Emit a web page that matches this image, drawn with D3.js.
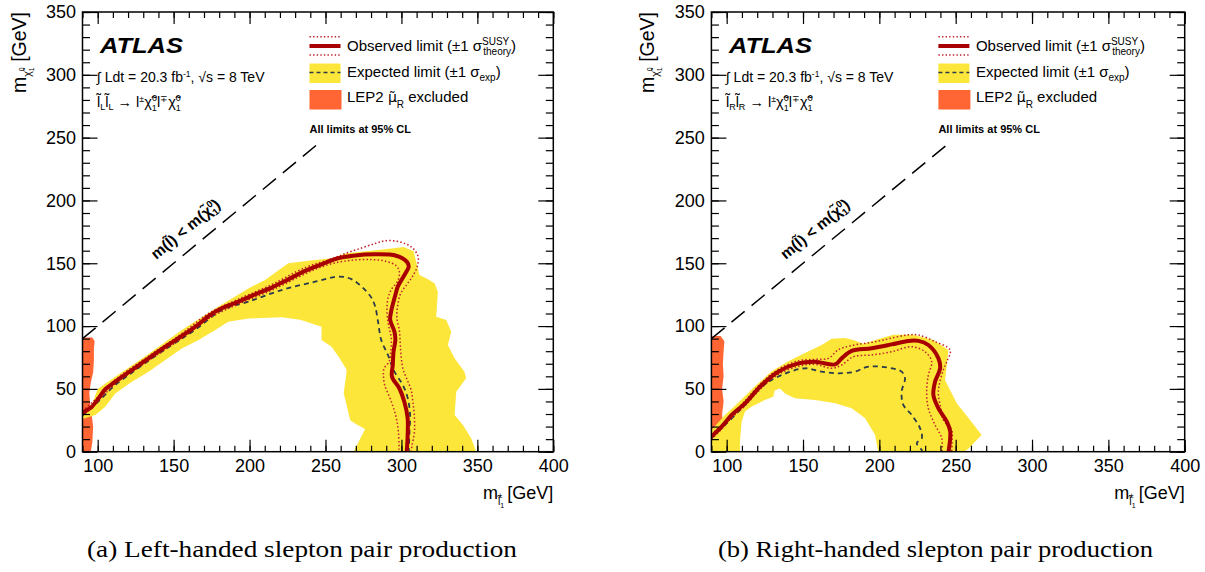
<!DOCTYPE html>
<html>
<head>
<meta charset="utf-8">
<script src="https://cdn.jsdelivr.net/npm/d3@7"></script>
<style>
  body { margin: 0; background: #fff; }
  svg { display: block; }
</style>
</head>
<body>
<svg id="chart" width="1205" height="572"></svg>
<script>
// axis ticks (GeV)
const xTicks = [100, 150, 200, 250, 300, 350, 400];
const yTicks = [0, 50, 100, 150, 200, 250, 300, 350];

// (a) left-handed: contours as [m_slepton, m_chi] pairs
const leftObserved = [[90,30.8],[93.9,33.8],[96.2,35.8],[100.6,42.5],[105,49.7],[111.6,55.7],[122.5,65],[133.5,74.3],[144.5,83.6],[155.4,92.1],[166.4,101.4],[173,108],[181.7,114.2],[192.7,119.4],[203.6,125.3],[214.6,130.6],[225.5,137.2],[236.5,143.9],[247.4,149.2],[257.1,153.6],[268.1,156],[283.4,157.1],[296.5,156],[303.5,151.3],[304.8,147.3],[302,140.7],[297.6,131.4],[296,124.7],[293.2,111.5],[292.6,104.8],[295.4,95.5],[296,88.9],[294.8,79.6],[294.3,69],[293.8,59.7],[298.6,50.5],[301.9,39.8],[304.1,26.6],[304.1,13.3],[303.5,0]];
const leftObsUp = [[90,32.5],[100.6,44],[111.6,57.3],[133.5,76],[155.4,94],[173,110],[192.7,121.5],[214.6,133],[236.5,146.5],[254,153.5],[263.6,158],[274.6,162.5],[283.4,166],[290,168],[297,167.5],[302.7,165.5],[307.5,162],[311,155.3],[310.3,147],[307.5,140],[303.5,133],[299.5,126],[297.6,117],[297,107],[298.7,96],[299.2,86],[299.8,76],[301,66],[303.5,58],[306.4,49],[307.5,40],[308.4,30],[308.6,16],[307,5],[306.4,0]];
const leftObsDown = [[90,29],[100.6,41],[111.6,54],[133.5,72.5],[155.4,90.3],[173,106],[192.7,117.5],[214.6,128.5],[236.5,141.5],[246,146.5],[257,150.5],[268,152.5],[280,153],[290,151.5],[296.6,148],[298.7,143],[297.6,136],[293.3,129],[291.1,122],[290.5,111.5],[291.5,100.8],[293.3,91],[293,80],[292,72],[288.5,66],[288.2,60],[289,53],[293.3,40],[296.6,27],[298.2,13],[298.4,0]];
const leftExpected = [[90,29],[100,39.5],[111,52.5],[122,62.5],[133,72],[144.5,81.5],[155.4,90],[166.4,99],[181.7,112.8],[199.2,119.4],[221.2,128.7],[243.1,135.3],[259.3,139.4],[268.1,136.7],[279,124.7],[282.4,116.8],[284.6,103.5],[286.7,88.9],[291.1,77],[295.4,63.7],[300.9,53.1],[304.2,42.4],[305.7,29.2],[305.3,16],[304.8,0]];
const leftBand = [[90,32],[96,37],[100,50],[111.6,59.7],[133.5,77.7],[155.4,96.8],[177.4,114],[188.3,122],[199.2,130],[210.2,136.7],[225.5,150],[238.6,152],[254,154],[264,158],[280,160],[294.8,162],[301.4,163],[308,159.6],[311.9,140.7],[316.3,138],[321.8,134],[324,127.4],[322.9,107.5],[329.5,104.8],[332.8,95.5],[330.6,84.9],[335,74.3],[341.5,63.7],[342.6,58.4],[336.1,47.8],[335,29.2],[340.5,21.2],[346,10.6],[349.2,0],[268.5,0],[276.1,18],[270,22],[266.3,25],[262,46.5],[264,65],[259,75],[254,83.5],[247.4,89],[247.4,99.5],[233.3,105],[221.2,107],[199.2,106],[186,103.5],[177.4,96.8],[166.4,88.9],[155.4,82.2],[144.5,73],[133.5,63.7],[122.5,55.7],[111.6,46.4],[105,35.8],[98.5,29.2],[90,26]];
const leftLep = [[90,0],[95.5,0],[96.5,8],[97,20],[96,30],[95,38],[94.5,47],[95.5,55],[97,63],[97.5,72],[97.5,82],[98,88],[96.5,91],[90,91]];

// (b) right-handed
const rightObserved = [[90,12],[96.7,20],[103.3,29.2],[112,38.5],[123,53.1],[133.8,63.7],[146.9,70.3],[157.9,71.6],[171,69.5],[175.3,74.3],[181.9,80.2],[195,82.3],[208.1,85.4],[219,88.2],[225.6,88.2],[232.1,84.9],[238.7,74.3],[239.8,66.4],[236.5,55.7],[235.4,45.1],[238.7,34.5],[244.2,23.9],[246.4,16],[245.3,0]];
const rightObsUp = [[90,14],[98.9,23.5],[112,40.5],[123,55],[133.8,65.5],[146.9,72.3],[157.9,73.5],[166.6,74.3],[173.2,81.2],[181.9,84.5],[199,87.9],[210,91],[219,93],[225.6,92.9],[236.5,87.6],[246.4,80.9],[244.1,71.6],[241.9,65],[239.5,55],[238.6,46.5],[240,36],[241.9,25.3],[247.4,17.3],[247.6,8],[247.4,0]];
const rightObsDown = [[90,10],[96.7,18],[103.3,27],[112,36.5],[123,51],[133.8,61.5],[146.9,68],[157.9,69.5],[168.8,66.4],[175.3,69],[183,75.6],[195,77],[208.1,79.6],[221.2,83.6],[229.9,79.6],[234.3,71.6],[232.1,61],[231,47.8],[232.1,34.5],[236.5,21.3],[240.9,10.7],[240.9,0]];
const rightExpected = [[90,10.7],[98.9,21.3],[112,37.2],[123,51.8],[136,61],[151.3,66.4],[162.2,63.7],[173.2,62.4],[184,63.7],[192.8,67.7],[208.1,66.4],[214.6,63.7],[216.8,58.4],[214.6,47.8],[215.7,37.2],[221.2,29.2],[226.7,18.6],[227.8,10.7],[224.5,6.7],[227.8,1.3],[227.8,0]];
const rightBand = [[90,0],[90,17],[98.9,29.2],[107.6,39],[118.5,52],[129.5,64],[140.4,72],[151.3,78.5],[162.2,85],[168.8,90],[177.5,90.5],[183,89],[189.5,86],[200,90],[209.2,93],[222.3,93],[235.4,89],[245.2,81],[244.1,67.7],[243,57],[250.7,38.5],[259.4,25.2],[267,13.3],[263.8,9.3],[258,2],[255,0],[199.3,0],[197.2,13.3],[190.7,26.6],[181.9,34.5],[171,38.5],[157.9,41.1],[144.8,42.5],[138.2,46.4],[134.9,50.4],[131.6,49],[130.5,43.8],[125,41.1],[116.4,35.9],[112,31.9],[109.8,23.9],[108.7,8],[108.7,0]];
const rightLep = [[90,0],[96,0],[97,10],[97.5,20],[97,30],[98,40],[97,50],[98,60],[97.5,70],[98,80],[98.5,88],[96,92],[90,92]];

const kinLimit = [[90, 90], [245, 245]];

const SANS = "'Liberation Sans', Arial, Helvetica, sans-serif";
const SERIF = "'Liberation Serif', 'Times New Roman', serif";
const OBS = "#a80000";
const DOT = "#c0202a";
const EXP = "#2b3a4a";
const BAND = "#fde63a";
const LEP = "#ff6633";

const svg = d3.select("#chart");

// text with sub/superscripts: parts = [{t, f, s (shift down), dx, ff}]
function rich(text, parts) {
  let shift = 0;
  parts.forEach((p) => {
    const s = p.s || 0;
    const ts = text.append("tspan")
      .attr("dy", s - shift)
      .attr("dx", p.dx || 0)
      .attr("font-size", p.f)
      .text(p.t);
    if (p.ff) ts.attr("font-family", p.ff);
    shift = s;
  });
  return text;
}

const panels = [
  {
    left: 82.5, right: 553.3, hand: "L",
    caption: "(a) Left-handed slepton pair production", capX: 302, capW: 430,
    band: leftBand, lep: leftLep, expected: leftExpected,
    observed: leftObserved, up: leftObsUp, down: leftObsDown,
  },
  {
    left: 711.4, right: 1184.7, hand: "R",
    caption: "(b) Right-handed slepton pair production", capX: 935.5, capW: 435,
    band: rightBand, lep: rightLep, expected: rightExpected,
    observed: rightObserved, up: rightObsUp, down: rightObsDown,
  },
];

const plotTop = 12, plotBottom = 451.7;

panels.forEach((p, i) => {
  const x = d3.scaleLinear().domain([90, 400]).range([p.left, p.right]);
  const y = d3.scaleLinear().domain([0, 350]).range([plotBottom, plotTop]);
  const g = svg.append("g").attr("class", `panel-${i}`);

  const clipId = `clip-${i}`;
  g.append("clipPath").attr("id", clipId)
    .append("rect")
    .attr("x", x(90)).attr("y", y(350))
    .attr("width", x(400) - x(90)).attr("height", y(0) - y(350));

  const plot = g.append("g").attr("clip-path", `url(#${clipId})`);
  const area = d3.line().x((d) => x(d[0])).y((d) => y(d[1]));
  const smooth = d3.line().x((d) => x(d[0])).y((d) => y(d[1])).curve(d3.curveCatmullRom.alpha(0.5));

  plot.append("path").attr("d", area(p.lep) + "Z").attr("fill", LEP);
  plot.append("path").attr("d", area(p.band) + "Z").attr("fill", BAND);
  plot.append("path").attr("d", smooth(p.expected))
    .attr("fill", "none").attr("stroke", EXP).attr("stroke-width", 1.8)
    .attr("stroke-dasharray", "5,4");
  [p.up, p.down].forEach((c) => {
    plot.append("path").attr("d", smooth(c))
      .attr("fill", "none").attr("stroke", DOT).attr("stroke-width", 1.5)
      .attr("stroke-dasharray", "1.5,2.2");
  });
  plot.append("path").attr("d", smooth(p.observed))
    .attr("fill", "none").attr("stroke", OBS).attr("stroke-width", 4)
    .attr("stroke-linejoin", "round");

  // kinematic limit
  plot.append("path").attr("d", area(kinLimit))
    .attr("fill", "none").attr("stroke", "#000").attr("stroke-width", 1.5)
    .attr("stroke-dasharray", "17,9");
  const ang = Math.atan2(y(200) - y(100), x(200) - x(100)) * 180 / Math.PI;
  const lbl = g.append("text")
    .attr("transform", `translate(${x(160)},${y(174)}) rotate(${ang})`)
    .attr("text-anchor", "middle")
    .attr("font-family", SANS).attr("font-weight", "bold");
  rich(lbl, [
    { t: "m(l\u0303", f: 15.5 }, { t: ") < m(\u03c7\u0303", f: 15.5 },
    { t: "1", f: 9.5, s: 4 }, { t: "0", f: 9.5, s: -6, dx: -5.3 }, { t: ")", f: 15.5, s: 0 },
  ]);

  // ticks on all four sides, pointing inwards
  const xMinor = d3.range(90, 401, 10);
  const yMinor = d3.range(0, 351, 10);
  const add = (axis, tr) => g.append("g").attr("transform", tr).call(axis)
    .call((s) => s.select(".domain").remove())
    .call((s) => s.selectAll("line").attr("stroke-width", 1.2));
  add(d3.axisBottom(x).tickValues(xMinor).tickSize(-6).tickFormat(""), `translate(0,${y(0)})`);
  add(d3.axisTop(x).tickValues(xMinor).tickSize(-6).tickFormat(""), `translate(0,${y(350)})`);
  add(d3.axisTop(x).tickValues(xTicks).tickSize(-12).tickFormat(""), `translate(0,${y(350)})`);
  add(d3.axisLeft(y).tickValues(yMinor).tickSize(-7.5).tickFormat(""), `translate(${x(90)},0)`);
  add(d3.axisRight(y).tickValues(yMinor).tickSize(-7.5).tickFormat(""), `translate(${x(400)},0)`);
  add(d3.axisRight(y).tickValues(yTicks).tickSize(-15).tickFormat(""), `translate(${x(400)},0)`);
  add(d3.axisBottom(x).tickValues(xTicks).tickSize(-12).tickPadding(8).tickFormat(d3.format("d")),
    `translate(0,${y(0)})`)
    .attr("font-family", SANS).attr("font-size", 18);
  add(d3.axisLeft(y).tickValues(yTicks).tickSize(-15).tickPadding(6.5).tickFormat(d3.format("d")),
    `translate(${x(90)},0)`)
    .attr("font-family", SANS).attr("font-size", 18);

  // frame
  g.append("rect")
    .attr("x", x(90)).attr("y", y(350))
    .attr("width", x(400) - x(90)).attr("height", y(0) - y(350))
    .attr("fill", "none").attr("stroke", "#000").attr("stroke-width", 1.5);

  // axis titles
  const yt = g.append("text")
    .attr("transform", `translate(${p.left - 57},12) rotate(-90)`)
    .attr("text-anchor", "end").attr("font-family", SANS);
  rich(yt, [
    { t: "m", f: 19.5 }, { t: "\u03c7\u0303", f: 10.5, s: 5 },
    { t: "1", f: 7, s: 8 }, { t: "0", f: 7, s: -2, dx: -3.9 },
    { t: " [GeV]", f: 19.5, s: 0 },
  ]);
  const xt = g.append("text")
    .attr("x", p.right).attr("y", 499)
    .attr("text-anchor", "end").attr("font-family", SANS);
  rich(xt, [
    { t: "m", f: 18 }, { t: "l\u0303", f: 10.5, s: 6 },
    { t: "1", f: 7, s: 9 }, { t: "\u00b1", f: 7.5, s: -1, dx: -6 },
    { t: " [GeV]", f: 18, s: 0 },
  ]);

  // ATLAS label block
  const ox = p.left;
  g.append("text").attr("x", ox + 17.5).attr("y", 53)
    .attr("font-family", SANS).attr("font-weight", "bold").attr("font-style", "italic")
    .attr("font-size", 22).attr("textLength", 83).attr("lengthAdjust", "spacingAndGlyphs")
    .text("ATLAS");
  const lumi = g.append("text").attr("x", ox + 14.5).attr("y", 82).attr("font-family", SANS);
  rich(lumi, [
    { t: "\u222b Ldt = 20.3 fb", f: 14 }, { t: "-1", f: 8.5, s: -5 },
    { t: ", \u221as = 8 TeV", f: 14, s: 0 },
  ]);
  const proc = g.append("text").attr("x", ox + 14.5).attr("y", 107).attr("font-family", SANS);
  rich(proc, [
    { t: "l\u0303", f: 14.5 }, { t: p.hand, f: 9, s: 3 }, { t: "l\u0303", f: 14.5, s: 0 },
    { t: p.hand, f: 9, s: 3 },
    { t: " \u2192 l", f: 14.5, s: 0 }, { t: "\u00b1", f: 9, s: -5 },
    { t: "\u03c7\u0303", f: 14.5, s: 0 }, { t: "1", f: 9, s: 4 }, { t: "0", f: 9, s: -6, dx: -5 },
    { t: "l", f: 14.5, s: 0 }, { t: "\u2213", f: 9, s: -5 },
    { t: "\u03c7\u0303", f: 14.5, s: 0 }, { t: "1", f: 9, s: 4 }, { t: "0", f: 9, s: -6, dx: -5 },
  ]);

  // legend
  const lx = ox + 227, tx = ox + 264.5;
  [36.7, 55].forEach((ly) => {
    g.append("line").attr("x1", lx).attr("x2", lx + 31).attr("y1", ly).attr("y2", ly)
      .attr("stroke", DOT).attr("stroke-width", 1.4).attr("stroke-dasharray", "1.4,2.2");
  });
  g.append("line").attr("x1", lx).attr("x2", lx + 31).attr("y1", 46).attr("y2", 46)
    .attr("stroke", OBS).attr("stroke-width", 4);
  g.append("rect").attr("x", lx).attr("y", 63.5).attr("width", 31).attr("height", 19.5).attr("fill", BAND);
  g.append("line").attr("x1", lx).attr("x2", lx + 31).attr("y1", 72.5).attr("y2", 72.5)
    .attr("stroke", EXP).attr("stroke-width", 1.5).attr("stroke-dasharray", "4,3");
  g.append("rect").attr("x", lx).attr("y", 90).attr("width", 32).attr("height", 19.5).attr("fill", LEP);

  const t1 = g.append("text").attr("x", tx).attr("y", 51).attr("font-family", SANS);
  rich(t1, [
    { t: "Observed limit (\u00b11 \u03c3", f: 15 }, { t: "SUSY", f: 10, s: -6 },
    { t: "theory", f: 10, s: 4, dx: -26 }, { t: ")", f: 15, s: 0 },
  ]);
  const t2 = g.append("text").attr("x", tx).attr("y", 77).attr("font-family", SANS);
  rich(t2, [
    { t: "Expected limit (\u00b11 \u03c3", f: 15 }, { t: "exp", f: 10, s: 4 },
    { t: ")", f: 15, s: 0 },
  ]);
  const t3 = g.append("text").attr("x", tx).attr("y", 102).attr("font-family", SANS);
  rich(t3, [
    { t: "LEP2 ", f: 15 }, { t: "\u03bc\u0303", f: 14, ff: "'DejaVu Sans', sans-serif" },
    { t: "R", f: 10, s: 6 },
    { t: " excluded", f: 15, s: 0 },
  ]);
  g.append("text").attr("x", ox + 227).attr("y", 133)
    .attr("font-family", SANS).attr("font-weight", "bold").attr("font-size", 11)
    .text("All limits at 95% CL");

  // caption
  g.append("text").attr("x", p.capX).attr("y", 557)
    .attr("text-anchor", "middle").attr("font-family", SERIF).attr("font-size", 23.5)
    .attr("textLength", p.capW).attr("lengthAdjust", "spacingAndGlyphs")
    .text(p.caption);
});
</script>
</body>
</html>
